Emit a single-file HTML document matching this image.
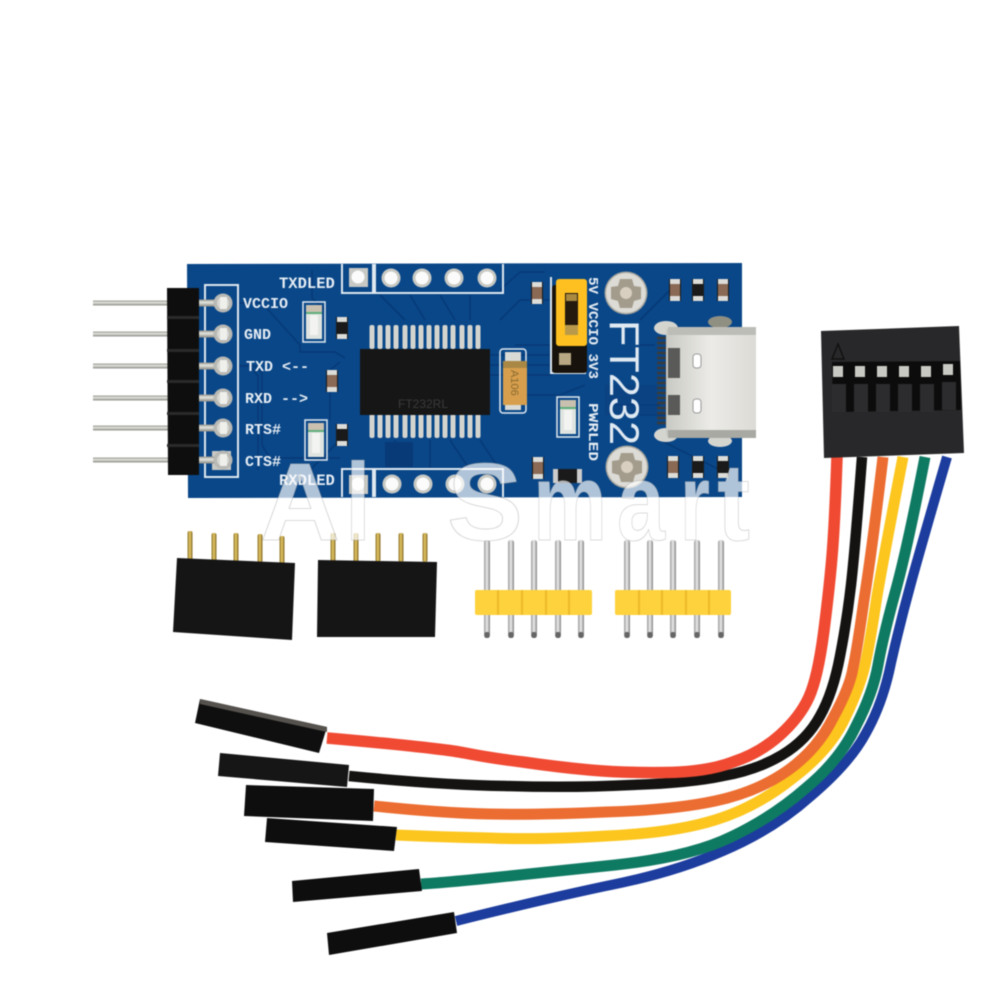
<!DOCTYPE html>
<html><head><meta charset="utf-8"><style>
html,body{margin:0;padding:0;background:#fff;width:1000px;height:1000px;overflow:hidden}
svg{display:block;filter:blur(.4px)}
.s{font-family:"Liberation Mono",monospace;font-weight:bold;fill:#e6edf4}
.w{font-family:"Liberation Sans",sans-serif;font-weight:bold;font-size:110px;fill:#fff;fill-opacity:.68;stroke:#8a8a8a;stroke-opacity:.4;stroke-width:.8}
</style></head><body>
<svg width="1000" height="1000" viewBox="0 0 1000 1000" xmlns="http://www.w3.org/2000/svg">
<defs>
<linearGradient id="pin" x1="0" y1="0" x2="0" y2="1"><stop offset="0" stop-color="#8f8f88"/><stop offset=".4" stop-color="#e6e6e0"/><stop offset="1" stop-color="#8a8a84"/></linearGradient>
<linearGradient id="vpin" x1="0" y1="0" x2="1" y2="0"><stop offset="0" stop-color="#999"/><stop offset=".5" stop-color="#eee"/><stop offset="1" stop-color="#808080"/></linearGradient>
<linearGradient id="gold" x1="0" y1="0" x2="1" y2="0"><stop offset="0" stop-color="#8d7530"/><stop offset=".5" stop-color="#e6c763"/><stop offset="1" stop-color="#7d6425"/></linearGradient>
<linearGradient id="usb" x1="0" y1="0" x2="1" y2="0"><stop offset="0" stop-color="#c9c9c4"/><stop offset=".5" stop-color="#ecebe7"/><stop offset="1" stop-color="#dcdbd6"/></linearGradient>
<g id="pad"><circle r="9.5" fill="#c9c9c4"/><circle r="6.5" fill="#fbfbfb"/></g>
<g id="hpin"><rect x="93" y="-2.5" width="76" height="5" fill="url(#pin)"/><rect x="198" y="-3.5" width="24" height="7" fill="url(#pin)"/><circle cx="223" r="9.5" fill="#b8b8b4"/><circle cx="223" r="6" fill="#d6d6d2"/><rect x="220" y="-6" width="7" height="12" fill="#efefec"/></g>
<g id="cap"><rect x="-6" y="-11" width="12" height="22" fill="#1a1a1a"/><rect x="-5" y="-11" width="10" height="5" fill="#dcdcd8"/><rect x="-5" y="6" width="10" height="5" fill="#dcdcd8"/><rect x="-5" y="-6" width="10" height="12" fill="#8a6a55"/></g>
<g id="res"><rect x="-6" y="-11" width="12" height="22" fill="#1a1a1a"/><rect x="-5" y="-11" width="10" height="5" fill="#dcdcd8"/><rect x="-5" y="6" width="10" height="5" fill="#dcdcd8"/></g>
<g id="led"><rect x="-11" y="-20" width="22" height="40" fill="none" stroke="#dfe8f0" stroke-width="1.5"/><rect x="-8" y="-17" width="16" height="34" fill="#dfe4e0"/><rect x="-8" y="-17" width="16" height="7" fill="#c9c0b0"/><rect x="-8" y="-10" width="16" height="2" fill="#5fae7a"/><rect x="-4" y="-7" width="8" height="20" fill="#f3f3f1"/></g>
<rect id="tp" x="-2.5" width="5" height="24" rx="2" fill="#d4d4cf"/>
<g id="vp"><rect x="-3" y="0" width="6" height="98" rx="2.5" fill="url(#vpin)"/><rect x="-2.5" y="92" width="5" height="6" rx="2" fill="#666"/></g>
<g id="screw"><circle r="21.5" fill="#a8a69e"/><circle r="20" fill="#dcdbd5"/><path d="M-6-14H6L8-7 15-6V6L8 8 6 15H-6L-8 8-15 6V-6L-8-7Z" fill="#a39c8c"/><circle r="6" fill="#d8cfc0"/></g>
</defs>

<!-- PCB -->
<polygon points="187,264 742,263 742,497 188,498" fill="#0a4788"/>
<g fill="none" stroke="#073a78" stroke-width="1.6">
<path d="M238,303 H262 L300,345 V352 H335 L345,358"/>
<path d="M238,366 H255 L262,373 V445 L270,458 H340"/>
<path d="M238,366 H250 L258,376 V470"/>
<path d="M312,270 V298 L325,310"/>
<path d="M380,295 L405,320M410,295 L425,320M440,295 L455,320M470,295 L470,320"/>
<path d="M500,290 L520,272 H545M500,320 L520,300 H550M515,345 H550V370"/>
<path d="M490,355 H552M490,365 H552M490,375 H552"/>
<path d="M340,440 L310,470M395,440 V460M430,440 V470M450,440 L470,470M480,440 L500,470"/>
<path d="M640,320 L670,290M640,345 H655M640,415 H665M660,440 L720,470M612,405 H660"/>
<path d="M330,420 V370M330,370 L340,362"/>
<path d="M585,385 L560,395 H515"/>
</g>
<rect x="605" y="385" width="52" height="30" fill="#0a3f7e" opacity=".6"/>
<rect x="385" y="442" width="28" height="25" fill="#093a78"/>

<!-- silk boxes -->
<g fill="none" stroke="#dfe8f0" stroke-width="2">
<rect x="205" y="285" width="33" height="192"/>
<path d="M342,264 V293 H373 V264M375,264 V293 H503 V264"/>
<path d="M342,497 V469 H373 V497M375,497 V469 H503 V497"/>
<path d="M551,277 V373 H586"/>
</g>
<rect x="212" y="451" width="19" height="19" fill="#c8c8c4"/>
<rect x="349" y="268" width="19" height="19" fill="#c8c8c4"/>
<circle cx="358" cy="277" r="6.5" fill="#fbfbfb"/>
<rect x="349" y="475" width="19" height="19" fill="#c8c8c4"/>
<circle cx="358" cy="484" r="6.5" fill="#fbfbfb"/>
<use href="#pad" x="391" y="278"/><use href="#pad" x="422" y="278"/><use href="#pad" x="454" y="278"/><use href="#pad" x="487" y="278"/>
<use href="#pad" x="392" y="484"/><use href="#pad" x="423" y="484"/><use href="#pad" x="455" y="484"/><use href="#pad" x="487" y="484"/>

<!-- left header -->
<use href="#hpin" y="303"/><use href="#hpin" y="334"/><use href="#hpin" y="366"/><use href="#hpin" y="398"/><use href="#hpin" y="428"/><use href="#hpin" y="460"/>
<polygon points="167,288 199,288 199,475 168,475" fill="#0e0e0e"/>
<g fill="#2a2a2a"><rect x="167" y="316" width="32" height="3"/><rect x="167" y="349" width="32" height="3"/><rect x="167" y="380" width="32" height="3"/><rect x="167" y="412" width="32" height="3"/><rect x="167" y="444" width="32" height="3"/></g>

<!-- labels -->
<g class="s" font-size="15">
<text x="243" y="308">VCCIO</text><text x="244" y="339">GND</text><text x="246" y="371">TXD &lt;--</text><text x="245" y="403">RXD --&gt;</text><text x="245" y="434">RTS#</text><text x="245" y="466">CTS#</text>
</g>
<text class="s" x="279" y="288" font-size="15.5">TXDLED</text>
<text class="s" x="279" y="485" font-size="15.5">RXDLED</text>

<!-- IC -->
<g>
<use href="#tp" x="372" y="325"/><use href="#tp" x="380" y="325"/><use href="#tp" x="388" y="325"/><use href="#tp" x="396" y="325"/><use href="#tp" x="405" y="325"/><use href="#tp" x="413" y="325"/><use href="#tp" x="421" y="325"/><use href="#tp" x="429" y="325"/><use href="#tp" x="437" y="325"/><use href="#tp" x="445" y="325"/><use href="#tp" x="453" y="325"/><use href="#tp" x="462" y="325"/><use href="#tp" x="470" y="325"/><use href="#tp" x="478" y="325"/>
<use href="#tp" x="372" y="414"/><use href="#tp" x="380" y="414"/><use href="#tp" x="388" y="414"/><use href="#tp" x="396" y="414"/><use href="#tp" x="405" y="414"/><use href="#tp" x="413" y="414"/><use href="#tp" x="421" y="414"/><use href="#tp" x="429" y="414"/><use href="#tp" x="437" y="414"/><use href="#tp" x="445" y="414"/><use href="#tp" x="453" y="414"/><use href="#tp" x="462" y="414"/><use href="#tp" x="470" y="414"/><use href="#tp" x="478" y="414"/>
<rect x="360" y="349" width="130" height="66" fill="#161616"/>
<text x="398" y="408" font-family="Liberation Sans, sans-serif" font-size="12" fill="#3a3a3a">FT232RL</text>
</g>

<!-- tantalum -->
<rect x="500" y="349" width="26" height="64" fill="none" stroke="#dfe8f0" stroke-width="1.5" rx="3"/>
<rect x="505" y="352" width="16" height="58" fill="#d9d9d5"/>
<rect x="503" y="361" width="24" height="44" fill="#d79f4d"/>
<rect x="503" y="361" width="24" height="7" fill="#a98846"/>
<text transform="translate(511,370) rotate(90)" font-family="Liberation Sans, sans-serif" font-size="11" fill="#8a6a30">A106</text>

<!-- SMD -->
<use href="#led" x="314" y="322"/><use href="#led" x="316" y="440" /><use href="#led" x="568" y="417"/>
<use href="#res" x="342" y="328"/><use href="#res" x="342" y="435"/>
<use href="#cap" x="332" y="381"/><use href="#cap" x="537" y="293"/><use href="#cap" x="675" y="290"/><use href="#cap" x="723" y="290"/><use href="#cap" x="538" y="468"/><use href="#cap" x="673" y="467"/>
<use href="#res" x="698" y="290"/><use href="#res" x="698" y="467"/><use href="#res" x="723" y="467"/>
<rect x="553" y="469" width="29" height="14" fill="#1a1a1a"/><rect x="553" y="469" width="5" height="14" fill="#ccc"/><rect x="577" y="469" width="5" height="14" fill="#ccc"/>

<!-- jumper -->
<rect x="552" y="285" width="35" height="88" rx="3" fill="#17130c"/>
<rect x="559" y="353" width="12" height="12" fill="#b8a884"/>
<rect x="556" y="279" width="31" height="67" rx="3" fill="#fdc020"/>
<rect x="565" y="293" width="13" height="42" fill="#241a0e"/>
<rect x="565" y="325" width="13" height="10" fill="#b89a4a"/>
<rect x="566" y="294" width="11" height="7" fill="#a98a40"/>

<!-- rotated text -->
<text class="s" transform="translate(589,277) rotate(90)" font-size="13.5" textLength="102" lengthAdjust="spacingAndGlyphs">5V VCCIO 3V3</text>
<text class="s" transform="translate(589,403) rotate(90)" font-size="13.5" textLength="58" lengthAdjust="spacingAndGlyphs">PWRLED</text>
<text transform="translate(610,320) rotate(90)" font-family="Liberation Sans, sans-serif" font-size="42" fill="#dfe9f2" textLength="125" lengthAdjust="spacingAndGlyphs">FT232</text>

<use href="#screw" x="626" y="293"/><use href="#screw" x="627" y="467"/>

<!-- USB-C -->
<ellipse cx="666" cy="328" rx="12" ry="7" fill="#d5d5d0"/><ellipse cx="720" cy="322" rx="12" ry="6" fill="#8f8f82"/>
<ellipse cx="666" cy="435" rx="12" ry="7" fill="#d5d5d0"/><ellipse cx="720" cy="441" rx="12" ry="6" fill="#d5d5d0"/>
<g stroke="#3a3a3a" stroke-width="2.5"><path d="M657,338H668M657,343H668M657,348H668M657,353H668M657,358H668M657,363H668M657,368H668M657,373H668M657,378H668M657,383H668M657,388H668M657,393H668M657,398H668M657,403H668M657,408H668M657,413H668M657,418H668M657,423H668"/></g>
<rect x="666" y="327" width="90" height="111" rx="5" fill="url(#usb)"/>
<rect x="668" y="327" width="88" height="8" fill="#bdbdb8"/>
<rect x="668" y="430" width="88" height="8" fill="#a9a9a4"/>
<path d="M668,348 H680 V378 H668Z M668,395 H680 V415 H668Z" fill="#5a5a58"/>
<rect x="693" y="354" width="8" height="14" rx="3" fill="#fff" stroke="#999"/>
<rect x="693" y="399" width="8" height="14" rx="3" fill="#fff" stroke="#999"/>

<!-- wires -->
<g fill="none" stroke-linecap="butt">
<path d="M947,457 Q922,543 911,583 Q900,623 891,663 Q883,703 866,733 Q850,763 811,796 Q773,830 723,851 Q673,873 606,886 Q540,900 456,921" stroke="#1c3c9e" stroke-width="10"/>
<path d="M925,457 Q907,550 895,593 Q883,637 878,665 Q873,693 856,726 Q840,760 806,788 Q773,817 731,837 Q690,857 615,865 Q540,873 490,878 Q440,883 421,884" stroke="#0f7a62" stroke-width="11"/>
<path d="M903,457 Q885,550 877,596 Q870,643 865,665 Q860,687 845,718 Q830,750 793,778 Q757,807 715,820 Q673,833 606,836 Q540,840 490,838 Q440,837 396,835" stroke="#fcc61e" stroke-width="11"/>
<path d="M883,457 Q872,550 864,600 Q857,650 853,668 Q850,687 833,718 Q817,750 787,771 Q757,792 715,801 Q673,810 606,812 Q540,815 490,814 Q440,813 374,806" stroke="#ec6d31" stroke-width="11"/>
<path d="M862,457 Q855,550 851,585 Q847,620 840,656 Q833,693 820,716 Q807,740 782,755 Q757,770 723,776 Q690,783 631,785 Q573,788 506,786 Q440,785 349,776" stroke="#151311" stroke-width="10.5"/>
<path d="M837,457 Q835,517 832.5,550 Q830,583 824,630 Q818,677 809,697 Q800,717 780,735 Q760,753 733,762 Q707,772 665,772.5 Q623,773 590,770 Q557,767 523,762 Q490,758 465,753 Q440,748 327,738" stroke="#f04a33" stroke-width="11.5"/>
</g>

<!-- wire-end housings -->
<polygon points="200,699 327,727 319,753 195,723" fill="#0f0f0f"/>
<polygon points="200,699 327,727 327,732 200,704" fill="#55524e"/>
<polygon points="220,753 349,765 347,787 218,776" fill="#161616"/>
<polygon points="246,785 374,789 373,821 244,816" fill="#0e0e0e"/>
<polygon points="267,818 397,827 394,851 265,842" fill="#0e0e0e"/>
<polygon points="292,881 419,869 422,891 293,902" fill="#0e0e0e"/>
<polygon points="327,933 454,912 457,933 329,955" fill="#0e0e0e"/>

<!-- 6-pin housing -->
<polygon points="821,331 959,326 964,453 824,458" fill="#28282a"/>
<polygon points="832,362 960,361 961,410 833,412" fill="#0c0c0c"/>
<polygon points="838,344 844,359 832,359" fill="none" stroke="#111" stroke-width="1.5"/>
<g>
<rect x="833" y="366" width="10" height="11" fill="#c9c9c4"/><rect x="855" y="366" width="10" height="11" fill="#c9c9c4"/><rect x="877" y="366" width="10" height="11" fill="#c9c9c4"/><rect x="899" y="366" width="10" height="11" fill="#c9c9c4"/><rect x="921" y="366" width="10" height="11" fill="#c9c9c4"/><rect x="943" y="364" width="10" height="11" fill="#c9c9c4"/>
</g>
<g fill="#2c2c2e"><rect x="832" y="384" width="14" height="28"/><rect x="854" y="384" width="14" height="28"/><rect x="876" y="384" width="14" height="28"/><rect x="898" y="384" width="14" height="28"/><rect x="920" y="384" width="14" height="28"/><rect x="942" y="382" width="14" height="28"/></g>

<!-- female headers -->
<rect x="187.5" y="531" width="5" height="29" rx="2" fill="url(#gold)"/><rect x="211.5" y="533" width="5" height="29" rx="2" fill="url(#gold)"/><rect x="233.5" y="533" width="5" height="29" rx="2" fill="url(#gold)"/><rect x="257.5" y="534" width="5" height="29" rx="2" fill="url(#gold)"/><rect x="279.5" y="536" width="5" height="29" rx="2" fill="url(#gold)"/>
<rect x="330.5" y="533" width="5" height="29" rx="2" fill="url(#gold)"/><rect x="353.5" y="533" width="5" height="29" rx="2" fill="url(#gold)"/><rect x="375.5" y="533" width="5" height="29" rx="2" fill="url(#gold)"/><rect x="398.5" y="533" width="5" height="29" rx="2" fill="url(#gold)"/><rect x="422.5" y="533" width="5" height="29" rx="2" fill="url(#gold)"/>
<polygon points="177,558 295,563 292,640 173,632" fill="#151515"/>
<polygon points="318,560 437,562 435,637 317,637" fill="#151515"/>

<!-- male headers -->
<use href="#vp" x="487" y="540"/><use href="#vp" x="511" y="540"/><use href="#vp" x="534" y="540"/><use href="#vp" x="558" y="540"/><use href="#vp" x="581" y="540"/>
<use href="#vp" x="627" y="540"/><use href="#vp" x="650" y="540"/><use href="#vp" x="673" y="540"/><use href="#vp" x="697" y="540"/><use href="#vp" x="721" y="540"/>
<rect x="475" y="590" width="117" height="25" rx="2" fill="#fdd23c"/>
<rect x="615" y="590" width="116" height="25" rx="2" fill="#fdd23c"/>
<g fill="#eeb92a"><rect x="497" y="590" width="2" height="25"/><rect x="521" y="590" width="2" height="25"/><rect x="545" y="590" width="2" height="25"/><rect x="568" y="590" width="2" height="25"/><rect x="638" y="590" width="2" height="25"/><rect x="661" y="590" width="2" height="25"/><rect x="685" y="590" width="2" height="25"/><rect x="708" y="590" width="2" height="25"/></g>

<!-- watermark -->
<text class="w" x="260" y="540" textLength="80" lengthAdjust="spacingAndGlyphs">A</text>
<text class="w" x="345" y="540" textLength="26" lengthAdjust="spacingAndGlyphs">l</text>
<text class="w" x="447" y="540" textLength="76" lengthAdjust="spacingAndGlyphs">S</text>
<text class="w" x="533" y="540" textLength="74" lengthAdjust="spacingAndGlyphs">m</text>
<text class="w" x="617" y="540" textLength="48" lengthAdjust="spacingAndGlyphs">a</text>
<text class="w" x="680" y="540" textLength="30" lengthAdjust="spacingAndGlyphs">r</text>
<text class="w" x="717" y="540" textLength="33" lengthAdjust="spacingAndGlyphs">t</text>
</svg>
</body></html>
